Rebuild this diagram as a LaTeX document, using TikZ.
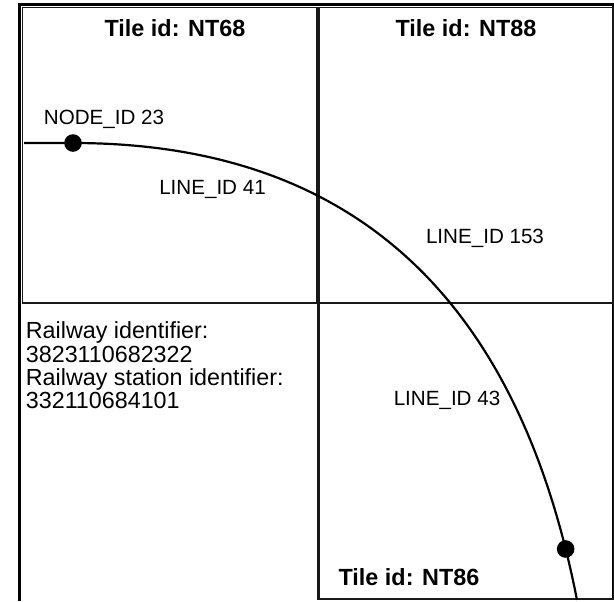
\documentclass[tikz,border=0pt]{standalone}
\usepackage{fontspec}
\setmainfont{Liberation Sans}

\begin{document}
\begin{tikzpicture}[x=0.5pt, y=-0.5pt,
		tile/.style={draw=black!90, line width=0.9pt},
		tiletitle/.style={font=\fontsize{11.7}{14}\selectfont\bfseries, anchor=base, inner sep=0pt},
		idlabel/.style={font=\fontsize{10.3}{12}\selectfont, anchor=base, inner sep=0pt},
		track/.style={line width=1.1pt},
		stop/.style={circle, fill=black, inner sep=0pt, minimum size=8.8pt}]
		%%%%% START %%%%%
		
		\useasboundingbox (0, 0) rectangle (614, 601);
		
		% outer frame
		\draw[line width=1.5pt] (19.5, 601) -- (19.5, 4) -- (614, 4);
		\draw[line width=0.8pt] (612.8, 4) -- (612.8, 599);
		
		% tiles
		\draw[tile] (22.5, 7.5) rectangle (317, 303);
		\draw[tile] (319, 7.5) rectangle (612.8, 303);
		\draw[tile, line width=1.1pt] (318.5, 303) rectangle (614, 599.3);
		
		\node[tiletitle] (nt68) at (175, 36) {Tile id: NT68};
		\node[tiletitle] (nt88) at (466, 36) {Tile id: NT88};
		\node[tiletitle] (nt86) at (409, 585) {Tile id: NT86};
		
		% railway line
		\coordinate (cut) at (24, 143);
		\node[stop] (node23) at (73, 143) {};
		\coordinate (out) at (577, 600);
		\draw[track] (cut) -- (node23.center) .. controls +(290, 0) and +(-57, -291) .. (out)
			node[stop, pos=0.94] (node2) {};
		
		\node[idlabel] (lbl23) at (104, 124) {NODE\_ID 23};
		\node[idlabel] (line41) at (212.5, 194) {LINE\_ID 41};
		\node[idlabel] (line153) at (485, 243) {LINE\_ID 153};
		\node[idlabel] (line43) at (447, 405) {LINE\_ID 43};
		
		\node[anchor=north west, inner sep=0pt, align=left, font=\fontsize{11.65}{11.65}\selectfont] (railinfo) at (25.5, 321.5)
			{Railway identifier:\\3823110682322\\Railway station identifier:\\332110684101};
		
		%%%%% END %%%%%
\end{tikzpicture}
\end{document}
